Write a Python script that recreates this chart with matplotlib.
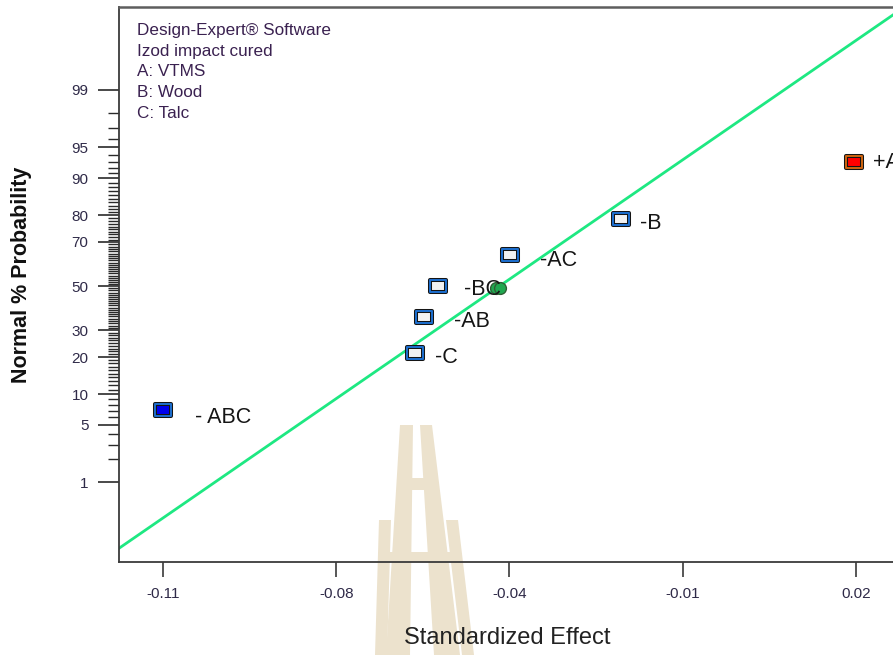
from statistics import NormalDist
import numpy as np
import matplotlib
matplotlib.use('Agg')
import matplotlib.pyplot as plt
from matplotlib.path import Path
from matplotlib.patches import Polygon

plt.rcParams['font.family'] = ['Liberation Sans', 'DejaVu Sans']

# normal probability plot of effects (Design-Expert export)
effect_names = ['A', 'B', 'C', 'AB', 'AC', 'BC', 'ABC']
label_texts = ['+A', '-B', '-C', '-AB', '-AC', '-BC', '- ABC']
std_effects = [0.0196, -0.0241, -0.0627, -0.0610, -0.0449, -0.0584, -0.1100]
normal_prob = [92.9, 78.6, 21.4, 35.7, 64.3, 50.0, 7.1]
in_model = [True, False, False, False, False, False, True]

error_effects = [-0.0475, -0.0468]
error_prob = [49.0, 49.0]

# reference line through the small effects
fit_center = -0.0469
fit_sd = 0.02296

x_ticks = [-0.11, -0.0775, -0.045, -0.0125, 0.02]
x_tick_labels = ['-0.11', '-0.08', '-0.04', '-0.01', '0.02']
y_major = [1, 5, 10, 20, 30, 50, 70, 80, 90, 95, 99]
y_minor = [p for p in range(2, 99) if p not in y_major]

info_lines = ['Design-Expert® Software', 'Izod impact cured', 'A: VTMS', 'B: Wood', 'C: Talc']

# label offsets in pixels (right, down) from marker centre
label_offsets = {'A': (19, 0), 'B': (19, 4), 'C': (20, 4), 'AB': (30, 4),
                 'AC': (30, 5), 'BC': (26, 3), 'ABC': (32, 7)}

W, H = 893, 655
nd = NormalDist()


def z(p):
    return nd.inv_cdf(p / 100.0)


fig = plt.figure(figsize=(W / 100, H / 100), dpi=100)

# faint watermark logo behind the chart
def px(pts):
    return [(x / W, 1 - y / H) for x, y in pts]

wm = '#ece2cd'
logo = [
    [(400, 425), (413, 425), (410, 655), (386, 655)],
    [(420, 425), (432, 425), (460, 655), (434, 655)],
    [(379, 520), (391, 520), (387, 655), (375, 655)],
    [(446, 520), (458, 520), (474, 655), (462, 655)],
    [(400, 478), (432, 478), (433, 490), (399, 490)],
    [(379, 552), (458, 552), (460, 562), (378, 562)],
]
for pts in logo:
    fig.add_artist(Polygon(px(pts), closed=True, transform=fig.transFigure,
                           facecolor=wm, edgecolor='none', zorder=0))

ax = fig.add_axes([119 / W, 1 - 562 / H, 1 - 119 / W, (562 - 7) / H])
ax.patch.set_alpha(0)

x_lo, x_hi = -0.11825, 0.02694
ax.set_xlim(x_lo, x_hi)
ax.set_ylim(-3.27, 3.31)

# fitted line
xl = np.array([x_lo, x_hi])
ax.plot(xl, (xl - fit_center) / fit_sd, color='#1ee882', lw=2, zorder=2)

rect = Path([(-1, -0.72), (1, -0.72), (1, 0.72), (-1, 0.72), (-1, -0.72)],
            [Path.MOVETO, Path.LINETO, Path.LINETO, Path.LINETO, Path.CLOSEPOLY])

for name, txt, x, p, sel in zip(effect_names, label_texts, std_effects, normal_prob, in_model):
    positive = txt.startswith('+')
    ring = '#d0650f' if positive else '#1d6fd0'
    if sel:
        fill = '#ff0000' if positive else '#0000ee'
    else:
        fill = '#f2f2f2'
    ax.plot(x, z(p), marker=rect, ms=11.5, mfc=fill, mec='#141414', mew=2.9,
            ls='none', zorder=4, clip_on=False)
    ax.plot(x, z(p), marker=rect, ms=11.5, mfc='none', mec=ring, mew=1.4,
            ls='none', zorder=5, clip_on=False)
    dx, dy = label_offsets[name]
    ax.annotate(txt, xy=(x, z(p)), xytext=(dx * 0.72, -dy * 0.72),
                textcoords='offset points', ha='left', va='center',
                fontsize=15.5, color='#151515', zorder=6, annotation_clip=False)

ax.plot(error_effects, [z(p) for p in error_prob], 'o', ms=8.5, mfc='#20a850',
        mec='#2f5f35', mew=1.0, ls='none', zorder=5)

# axes styling
ax.spines['right'].set_visible(False)
for s in ['left', 'bottom']:
    ax.spines[s].set_color('#3a3a3a')
    ax.spines[s].set_linewidth(1.3)
ax.spines['top'].set_color('#5e5e5e')
ax.spines['top'].set_linewidth(1.8)

tick_col = '#2f2a48'
ax.set_xticks(x_ticks)
ax.set_xticklabels(x_tick_labels)
ax.set_yticks([z(p) for p in y_major])
ax.set_yticklabels([str(p) for p in y_major])
ax.set_yticks([z(p) for p in y_minor], minor=True)
ax.tick_params(axis='x', length=11, width=1.2, color='#3a3a3a', pad=7,
               labelsize=11, labelcolor=tick_col)
ax.tick_params(axis='y', which='major', length=15, width=1.2, color='#2a2a2a',
               pad=7, labelsize=11, labelcolor=tick_col)
ax.tick_params(axis='y', which='minor', length=8, width=1.0, color='#2a2a2a')

fig.text(22 / W, 1 - 275 / H, 'Normal % Probability', rotation=90,
         ha='center', va='center', fontsize=15.5, fontweight='bold', color='#111111')
fig.text(507 / W, 1 - 638 / H, 'Standardized Effect', ha='center', va='center',
         fontsize=17, color='#222222')

for i, line in enumerate(info_lines):
    fig.text(137 / W, 1 - (31 + i * 20.5) / H, line, ha='left', va='center',
             fontsize=12.3, color='#3a2150')

fig.savefig('out.png', dpi=100)
